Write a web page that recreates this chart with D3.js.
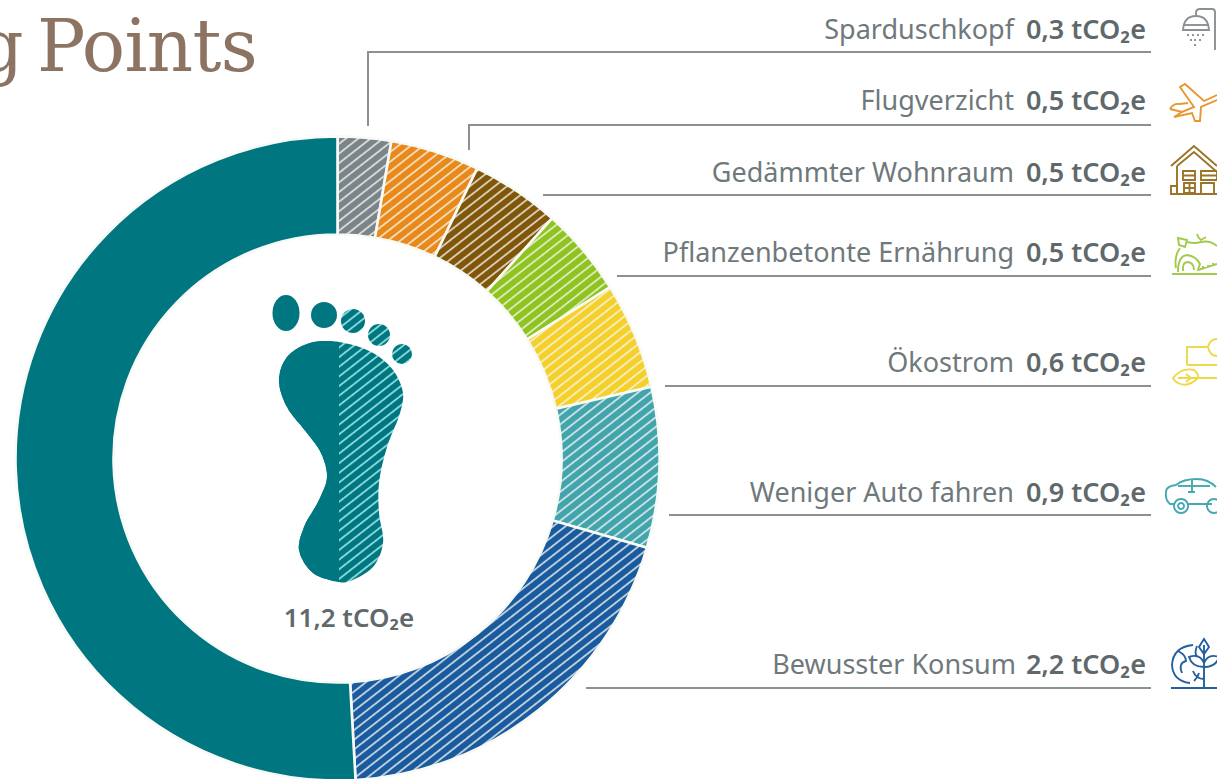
<!DOCTYPE html>
<html>
<head>
<meta charset="utf-8">
<script src="https://cdn.jsdelivr.net/npm/d3@7"></script>
<style>
html, body { margin: 0; padding: 0; background: white; overflow: hidden; }
svg { display: block; }
text { font-family: "Noto Sans", sans-serif; }
</style>
</head>
<body>
<svg width="1217" height="779"></svg>
<script>
const categories = ["Sparduschkopf", "Flugverzicht", "Gedämmter Wohnraum", "Pflanzenbetonte Ernährung", "Ökostrom", "Weniger Auto fahren", "Bewusster Konsum", "Rest"]
const values = [0.3, 0.5, 0.5, 0.5, 0.6, 0.9, 2.2, 5.7]
const colors = ["#7b8488", "#e8891a", "#80560a", "#8fc31f", "#f5d02a", "#42a5ad", "#1a5a9e", "#007681"]
const totalLabel = "11,2 tCO₂e"
const unit = "tCO₂e"

// label layout, same order as categories
const baselines = [39, 110, 182, 262, 372, 502, 674]
const lineY = [52, 125, 195, 276, 386, 515, 688]
const lineStart = [368, 469, 543, 617, 665, 669, 586]
const lineDrop = [126, 150, null, null, null, null, null]

const svg = d3.select("svg")
const defs = svg.append("defs")

const cx = 337.5, cy = 458.5
const outer = 322, inner = 224

function hatch(id, color, stripe, width) {
    const p = defs.append("pattern")
        .attr("id", id)
        .attr("patternUnits", "userSpaceOnUse")
        .attr("width", 7.6)
        .attr("height", 7.6)
        .attr("patternTransform", "rotate(-38)")
    p.append("rect").attr("width", 7.6).attr("height", 7.6).attr("fill", color)
    p.append("line")
        .attr("x1", 0).attr("x2", 7.6)
        .attr("y1", 3.8).attr("y2", 3.8)
        .attr("stroke", stripe)
        .attr("stroke-width", width)
}

colors.forEach((c, i) => hatch("h" + i, c, "#f6f8f2", 1.4))
hatch("footHatch", colors[7], "#93e2e2", 1.7)

// title, cut off by the window as in the picture
svg.append("text")
    .attr("x", 257)
    .attr("y", 71)
    .attr("text-anchor", "end")
    .style("font-family", "'DejaVu Serif', serif")
    .style("font-size", "72px")
    .style("letter-spacing", "-0.7px")
    .style("word-spacing", "-8px")
    .attr("fill", "#8d7361")
    .text("g Points")

// donut
const pie = d3.pie().sort(null).value(d => d)
const arc = d3.arc().innerRadius(inner).outerRadius(outer)

svg.append("g")
    .attr("transform", `translate(${cx},${cy})`)
    .selectAll("path")
    .data(pie(values))
    .enter()
    .append("path")
    .attr("d", arc)
    .attr("fill", (d, i) => i == 7 ? colors[7] : `url(#h${i})`)
    .attr("stroke", "#f8faf6")
    .attr("stroke-width", 2.6)

// leader lines
const rightEnd = 1151
svg.append("g")
    .selectAll("path")
    .data(categories.slice(0, 7))
    .enter()
    .append("path")
    .attr("d", (d, i) => {
        const start = lineDrop[i] != null ? `M${lineStart[i]},${lineDrop[i]}V${lineY[i]}` : `M${lineStart[i]},${lineY[i]}`
        return `${start}H${rightEnd}`
    })
    .attr("fill", "none")
    .attr("stroke", "#8b9091")
    .attr("stroke-width", 2)

// labels
const labels = svg.append("g").selectAll("g")
    .data(categories.slice(0, 7))
    .enter()
    .append("g")

labels.append("text")
    .attr("x", (d, i) => i == 6 ? 1016 : 1014)
    .attr("y", (d, i) => baselines[i])
    .attr("text-anchor", "end")
    .style("font-size", "27px")
    .attr("fill", "#6f797c")
    .text(d => d)

labels.append("text")
    .attr("x", 1146)
    .attr("y", (d, i) => baselines[i])
    .attr("text-anchor", "end")
    .style("font-size", "27px")
    .style("font-weight", 600)
    .attr("fill", "#5f696c")
    .text((d, i) => `${String(values[i]).replace(".", ",")} ${unit}`)

svg.append("text")
    .attr("x", 349)
    .attr("y", 627)
    .attr("text-anchor", "middle")
    .style("font-size", "26px")
    .style("font-weight", 600)
    .attr("fill", "#5f696c")
    .text(totalLabel)

// footprint
const footOutline = [[339, 342], [310, 343], [287, 357], [279, 380], [287, 407], [307, 433], [321, 453], [327, 477], [319, 500], [304, 527], [299, 550], [313, 573], [339, 582], [347, 582], [373, 567], [383, 543], [379, 513], [379, 483], [387, 447], [400, 413], [403, 393], [393, 370], [373, 353]]
const footLine = d3.line().curve(d3.curveCatmullRomClosed.alpha(0.5))

defs.append("clipPath").attr("id", "footLeft")
    .append("rect").attr("x", 250).attr("y", 330).attr("width", 89).attr("height", 260)

svg.append("path").attr("d", footLine(footOutline)).attr("fill", "url(#footHatch)")
svg.append("path").attr("d", footLine(footOutline)).attr("fill", colors[7]).attr("clip-path", "url(#footLeft)")

const toes = [[286, 313, 13.5, 18, 0], [324, 315, 13, 13, 0], [353, 321, 12, 12, 1], [379, 335, 11, 11, 1], [402, 354, 10, 10, 1]]
svg.append("g").selectAll("ellipse")
    .data(toes)
    .enter()
    .append("ellipse")
    .attr("cx", d => d[0]).attr("cy", d => d[1])
    .attr("rx", d => d[2]).attr("ry", d => d[3])
    .attr("fill", d => d[4] ? "url(#footHatch)" : colors[7])

// icons at the right edge
const icons = [
    { color: "#8a9194", x: 1180, y: 8, parts: [
        "M35,42V4Q35,1 32,1H20Q16,1 16,5V7",
        "M3,22Q4,8 16,8Q28,8 29,22H3Z", "M3,17H29",
        "M8,26V28M13,26V28M18,26V28M23,26V28M11,31V33M15,31V33M20,31V33M15,36V38"] },
    { color: "#e8962e", x: 1168, y: 83, parts: [
        "M2,26L14,29L26,24L12,4L17,1L36,18L49,12",
        "M2,26Q5,20 12,21L20,20",
        "M14,29L6,34L24,30L27,38L32,38L33,24L49,17"] },
    { color: "#9a7428", x: 1170, y: 144, parts: [
        "M1,22L24,2L47,22", "M7,22L24,8L47,28", "M7,22V50H47", "M2,50H47",
        "M13,27H25V36H13ZM13,31.5H25", "M31,27H47V36H31ZM31,31.5H47", "M14,39H25V49H14ZM19.5,39V49M14,44H25",
        "M31,50V39H44V50", "M1,42H7V50H1Z"] },
    { color: "#a2cb4e", x: 1170, y: 234, parts: [
        "M8,4L17,6L15,13L9,11ZM27,0Q28,4 31,6L36,3",
        "M17,8Q25,10 31,8Q40,6 47,12M10,14Q4,22 6,34",
        "M8,38Q8,22 17,21Q26,22 30,30Q28,34 28,37",
        "M13,37Q12,28 18,28Q24,29 24,36",
        "M2,40H47M28,36L47,30M33,35V32M38,34V31M43,32V29"] },
    { color: "#eed94a", x: 1172, y: 338, parts: [
        "M15,27V9H36M15,27H45", "M36,9Q38,1 45,1M36,9Q38,18 45,18",
        "M1,40Q10,29 22,32Q27,36 26,40Q16,50 6,45Q2,43 1,40Z", "M6,40H45M14,36L19,40L14,44"] },
    { color: "#46a8b0", x: 1164, y: 478, parts: [
        "M2,14Q2,8 12,7Q19,1 33,1Q44,1 52,9", "M2,14Q1,22 6,26H10M24,26H48",
        "M14,8H46", "M28,2V14M24,14H31",
        "M17,21a7,7 0 1,0 0.1,0Z", "M17,25a3,3 0 1,0 0.1,0Z", "M50,21a7,7 0 1,0 0.1,0Z"] },
    { color: "#245f9e", x: 1170, y: 637, parts: [
        "M23,8Q3,10 2,28Q3,44 20,46", "M8,14Q16,18 16,24Q8,26 12,36", "M27,9Q24,16 27,20M24,44Q28,40 29,36", "M1,51H47",
        "M34,50V8", "M34,2L29,10L34,17L39,10Z", "M34,30Q22,30 19,20Q30,16 34,26",
        "M34,30Q46,30 49,20Q38,16 34,26", "M34,42Q26,42 23,34"] }
]

svg.append("g").selectAll("g")
    .data(icons)
    .enter()
    .append("g")
    .attr("transform", d => `translate(${d.x},${d.y})`)
    .each(function (d) {
        d3.select(this).selectAll("path")
            .data(d.parts)
            .enter()
            .append("path")
            .attr("d", p => p)
            .attr("fill", "none")
            .attr("stroke", d.color)
            .attr("stroke-width", 1.9)
    })
</script>
</body>
</html>
